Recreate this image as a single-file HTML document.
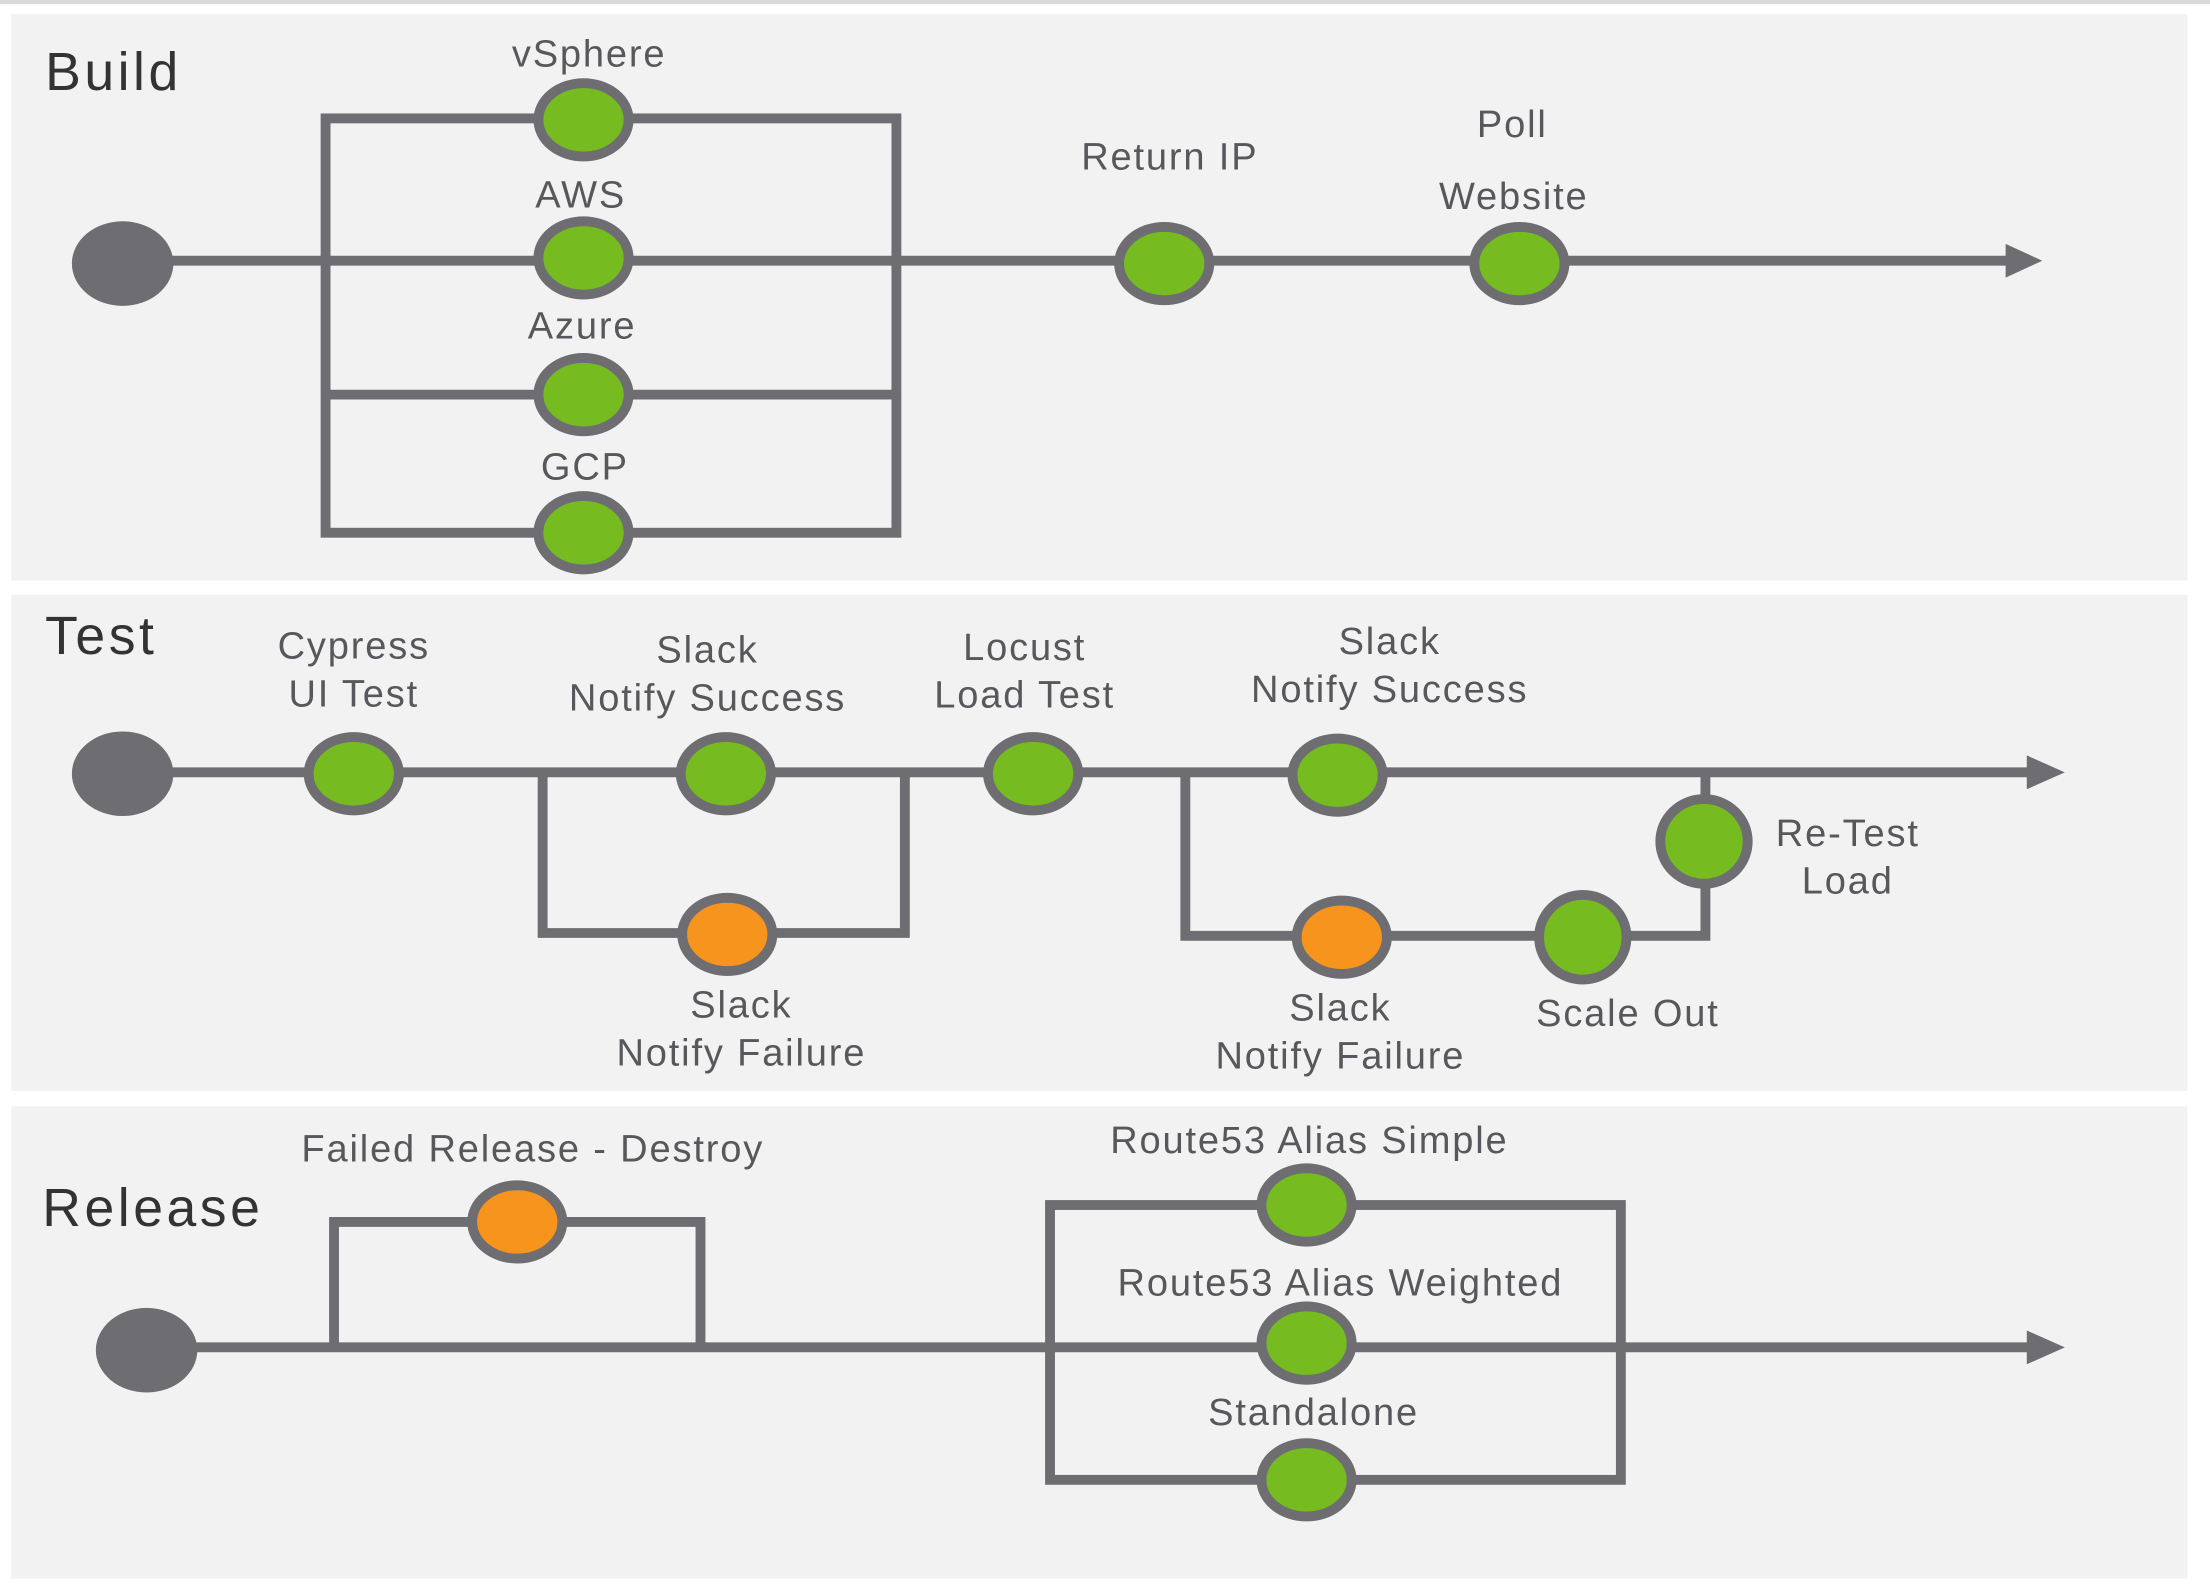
<!DOCTYPE html>
<html><head><meta charset="utf-8"><style>
html,body{margin:0;padding:0;background:#fff;}
svg{display:block;}
text{font-family:"Liberation Sans",sans-serif;fill:#58585c;font-size:27px;letter-spacing:1.3px;}
.t{fill:#333;font-size:38px;letter-spacing:2.5px;}
.l{stroke:#6d6d72;stroke-width:7;fill:none;}
.g{fill:#76bc21;stroke:#6d6d72;stroke-width:7;}
.o{fill:#f7941d;stroke:#6d6d72;stroke-width:7;}
.s{fill:#6d6d72;}
</style></head><body>
<svg width="2210" height="1594" viewBox="0 0 1568 1131" preserveAspectRatio="none" xmlns="http://www.w3.org/2000/svg">
<rect x="0" y="0" width="1568" height="3" fill="#d8d8d8"/>
<rect x="8" y="10" width="1544" height="402" fill="#f2f2f2"/>
<rect x="8" y="422" width="1544" height="352" fill="#f2f2f2"/>
<rect x="8" y="785" width="1544" height="335" fill="#f2f2f2"/>

<!-- Build -->
<text class="t" x="32" y="64">Build</text>
<line class="l" x1="87" y1="185" x2="1428" y2="185"/>
<polygon class="s" points="1423,173 1449,185 1423,197"/>
<rect class="l" x="231" y="84" width="405" height="294"/>
<line class="l" x1="231" y1="280" x2="636" y2="280"/>
<ellipse class="s" cx="87" cy="187" rx="36" ry="30"/>
<ellipse class="g" cx="414" cy="85" rx="32" ry="26"/>
<ellipse class="g" cx="414" cy="183" rx="32" ry="26"/>
<ellipse class="g" cx="414" cy="280" rx="32" ry="26"/>
<ellipse class="g" cx="414" cy="378" rx="32" ry="26"/>
<ellipse class="g" cx="826" cy="187" rx="32" ry="26"/>
<ellipse class="g" cx="1078" cy="187" rx="32" ry="26"/>
<g text-anchor="middle" dominant-baseline="middle">
<text x="418" y="40">vSphere</text>
<text x="412" y="140">AWS</text>
<text x="413" y="233">Azure</text>
<text x="415" y="333">GCP</text>
<text x="830" y="113">Return IP</text>
<text x="1073" y="90">Poll</text>
<text x="1074" y="141">Website</text>
</g>

<!-- Test -->
<text class="t" x="32" y="464">Test</text>
<line class="l" x1="87" y1="548" x2="1443" y2="548"/>
<polygon class="s" points="1438,536 1465,548 1438,560"/>
<polyline class="l" points="385,548 385,662 642,662 642,548"/>
<polyline class="l" points="841,548 841,664 1210,664 1210,548"/>
<ellipse class="s" cx="87" cy="549" rx="36" ry="30"/>
<ellipse class="g" cx="251" cy="549" rx="32" ry="26"/>
<ellipse class="g" cx="515" cy="549" rx="32" ry="26"/>
<ellipse class="o" cx="516" cy="663" rx="32" ry="26"/>
<ellipse class="g" cx="733" cy="549" rx="32" ry="26"/>
<ellipse class="g" cx="949" cy="550" rx="32" ry="26"/>
<ellipse class="o" cx="952" cy="665" rx="32" ry="26"/>
<ellipse class="g" cx="1123" cy="665" rx="31" ry="30"/>
<ellipse class="g" cx="1209" cy="597" rx="31" ry="30"/>
<g text-anchor="middle" dominant-baseline="middle">
<text x="251" y="460">Cypress</text><text x="251" y="494">UI Test</text>
<text x="502" y="463">Slack</text><text x="502" y="497">Notify Success</text>
<text x="526" y="715">Slack</text><text x="526" y="749">Notify Failure</text>
<text x="727" y="461">Locust</text><text x="727" y="495">Load Test</text>
<text x="986" y="457">Slack</text><text x="986" y="491">Notify Success</text>
<text x="951" y="717">Slack</text><text x="951" y="751">Notify Failure</text>
<text x="1155" y="721">Scale Out</text>
<text x="1311" y="593">Re-Test</text><text x="1311" y="627">Load</text>
</g>

<!-- Release -->
<text class="t" x="30" y="870">Release</text>
<line class="l" x1="104" y1="956" x2="1443" y2="956"/>
<polygon class="s" points="1438,944 1465,956 1438,968"/>
<polyline class="l" points="237,956 237,867 497,867 497,956"/>
<rect class="l" x="745" y="855" width="405" height="195"/>
<ellipse class="s" cx="104" cy="958" rx="36" ry="30"/>
<ellipse class="o" cx="367" cy="867" rx="32" ry="26"/>
<ellipse class="g" cx="927" cy="855" rx="32" ry="26"/>
<ellipse class="g" cx="927" cy="953" rx="32" ry="26"/>
<ellipse class="g" cx="927" cy="1050" rx="32" ry="26"/>
<g text-anchor="middle" dominant-baseline="middle">
<text x="378" y="817">Failed Release - Destroy</text>
<text x="929" y="811">Route53 Alias Simple</text>
<text x="951" y="912">Route53 Alias Weighted</text>
<text x="932" y="1004">Standalone</text>
</g>
</svg>
</body></html>
